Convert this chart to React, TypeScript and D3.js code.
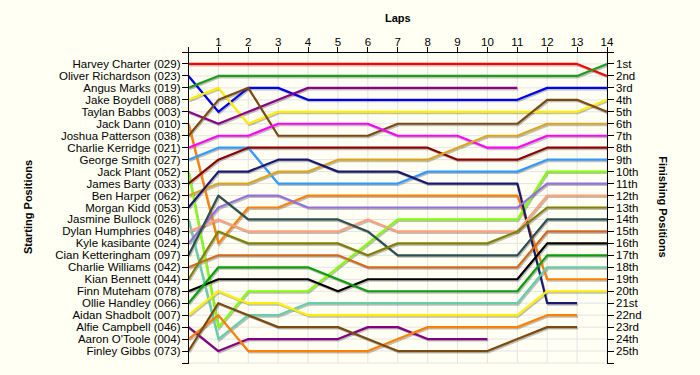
import React from 'react';
import * as d3 from 'd3';

// lap numbers on the top axis
const laps = [1, 2, 3, 4, 5, 6, 7, 8, 9, 10, 11, 12, 13, 14];

// starting grid, in order
const startNames = [
  "Harvey Charter (029)", "Oliver Richardson (023)", "Angus Marks (019)", "Jake Boydell (088)",
  "Taylan Babbs (003)", "Jack Dann (010)", "Joshua Patterson (038)", "Charlie Kerridge (021)",
  "George Smith (027)", "Jack Plant (052)", "James Barty (033)", "Ben Harper (062)",
  "Morgan Kidd (053)", "Jasmine Bullock (026)", "Dylan Humphries (048)", "Kyle kasibante (024)",
  "Cian Ketteringham (097)", "Charlie Williams (042)", "Kian Bennett (044)", "Finn Muteham (078)",
  "Ollie Handley (066)", "Aidan Shadbolt (007)", "Alfie Campbell (046)", "Aaron O'Toole (004)",
  "Finley Gibbs (073)",
];

const finishLabels = [
  "1st", "2nd", "3rd", "4th", "5th", "6th", "7th", "8th", "9th", "10th", "11th", "12th", "13th",
  "14th", "15th", "16th", "17th", "18th", "19th", "20th", "21st", "22nd", "23rd", "24th", "25th",
];

// position at lap 0..n (arrays stop when the driver retired / was lapped)
const harveyCharter = [1, 1, 1, 1, 1, 1, 1, 1, 1, 1, 1, 1, 1, 1, 2];
const oliverRichardson = [2, 5, 3, 3, 4, 4, 4, 4, 4, 4, 4, 4, 3, 3, 3];
const angusMarks = [3, 2, 2, 2, 2, 2, 2, 2, 2, 2, 2, 2, 2, 2, 1];
const jakeBoydell = [4, 3, 6, 5, 5, 5, 5, 5, 5, 5, 5, 5, 5, 5, 4];
const taylanBabbs = [5, 6, 5, 4, 3, 3, 3, 3, 3, 3, 3, 3];
const jackDann = [6, 16, 13, 13, 12, 12, 12, 12, 12, 12, 12, 12, 19, 19, 19];
const joshuaPatterson = [7, 4, 3, 7, 7, 7, 7, 6, 6, 6, 6, 6, 4, 4, 5];
const charlieKerridge = [8, 7, 7, 6, 6, 6, 6, 7, 7, 7, 8, 8, 7, 7, 7];
const georgeSmith = [9, 8, 8, 11, 11, 11, 11, 11, 10, 10, 10, 10, 9, 9, 9];
const jackPlant = [10, 23, 20, 20, 20, 18, 16, 14, 14, 14, 14, 14, 10, 10, 10];
const jamesBarty = [11, 9, 8, 8, 8, 8, 8, 8, 8, 9, 9, 9, 8, 8, 8];
const benHarper = [12, 11, 11, 10, 10, 9, 9, 9, 9, 8, 7, 7, 6, 6, 6];
const morganKidd = [13, 10, 10, 9, 9, 10, 10, 10, 11, 11, 11, 11, 21, 21];
const jasmineBullock = [14, 24, 22, 22, 21, 21, 21, 21, 21, 21, 21, 21, 18, 18, 18];
const dylanHumphries = [15, 14, 15, 15, 15, 15, 14, 15, 15, 15, 15, 15, 12, 12, 12];
const kyleKasibante = [16, 13, 12, 12, 13, 13, 13, 13, 13, 13, 13, 13, 11, 11, 11];
const cianKetteringham = [17, 12, 14, 14, 14, 14, 15, 17, 17, 17, 17, 17, 14, 14, 14];
const charlieWilliams = [18, 17, 17, 17, 17, 17, 18, 18, 18, 18, 18, 18, 15, 15, 15];
const kianBennett = [19, 15, 16, 16, 16, 16, 17, 16, 16, 16, 16, 15, 13, 13, 13];
const finnMuteham = [20, 19, 19, 19, 19, 20, 19, 19, 19, 19, 19, 19, 16, 16, 16];
const ollieHandley = [21, 18, 18, 18, 18, 19, 20, 20, 20, 20, 20, 20, 17, 17, 17];
const aidanShadbolt = [22, 20, 21, 21, 22, 22, 22, 22, 22, 22, 22, 22, 20, 20, 20];
const alfieCampbell = [23, 25, 24, 24, 24, 24, 23, 23, 24, 24, 24];
const aaronOToole = [24, 22, 25, 25, 25, 25, 25, 24, 23, 23, 23, 23, 22, 22];
const finleyGibbs = [25, 21, 22, 23, 23, 23, 24, 25, 25, 25, 25, 24, 23, 23];

const positions = [
  harveyCharter, oliverRichardson, angusMarks, jakeBoydell, taylanBabbs, jackDann,
  joshuaPatterson, charlieKerridge, georgeSmith, jackPlant, jamesBarty, benHarper,
  morganKidd, jasmineBullock, dylanHumphries, kyleKasibante, cianKetteringham,
  charlieWilliams, kianBennett, finnMuteham, ollieHandley, aidanShadbolt,
  alfieCampbell, aaronOToole, finleyGibbs,
];

const colors = [
  "#ff0000", "#0000ee", "#1c9e1c", "#ffee00", "#880088", "#ff7f00", "#7b4a12", "#ff00ff",
  "#3399ff", "#7fff00", "#8b0000", "#daa520", "#191970", "#66cdaa", "#ffa07a", "#9370db",
  "#2f4f4f", "#d2691e", "#808000", "#000000", "#0a9e0a", "#ffee00", "#800080", "#ff8000",
  "#7b4a12",
];

export default function App() {
  const width = 700;
  const height = 375;
  const font = "Arial, 'Liberation Sans', sans-serif";

  const x = d3.scaleLinear().domain([0, 14]).range([188.5, 607]);
  const y = d3.scaleLinear().domain([0, 26]).range([52, 363]);

  const line = d3.line<number>()
    .x((d, i) => x(i))
    .y((d) => y(d));

  const rows = d3.range(1, 27);

  return (
    <svg width={width} height={height} style={{ position: 'absolute', left: 0, top: 0, background: '#fffff4' }}>
      <rect width={width} height={height} fill="#fffff4" />

      {/* grid */}
      <g stroke="#e4e4e4" strokeWidth={1}>
        {laps.map((l) => (
          <line key={"v" + l} x1={x(l)} x2={x(l)} y1={y(0)} y2={y(26)} />
        ))}
        {rows.map((r) => (
          <line key={"h" + r} x1={x(0)} x2={x(14)} y1={y(r)} y2={y(r)} />
        ))}
      </g>

      {/* shadows */}
      <g fill="none" stroke="#000" strokeOpacity={0.25} strokeWidth={2} transform="translate(1,1.5)">
        {positions.map((p, i) => <path key={i} d={line(p) || ""} />)}
      </g>
      {/* lines */}
      <g fill="none" strokeWidth={2.2} strokeLinejoin="round">
        {positions.map((p, i) => <path key={i} d={line(p) || ""} stroke={colors[i]} />)}
      </g>

      {/* axes */}
      <g stroke="#000" strokeWidth={1} shapeRendering="crispEdges">
        <line x1={x(0) - 7} x2={x(14) + 7} y1={y(0)} y2={y(0)} />
        <line x1={x(0)} x2={x(0)} y1={y(0)} y2={y(26)} />
        <line x1={x(14)} x2={x(14)} y1={y(0)} y2={y(26)} />
        {[0].concat(laps).map((l) => (
          <line key={"t" + l} x1={x(l)} x2={x(l)} y1={y(0)} y2={y(0) - 5} />
        ))}
        {rows.map((r) => (
          <g key={"k" + r}>
            <line x1={x(0) - 7} x2={x(0)} y1={y(r)} y2={y(r)} />
            <line x1={x(14)} x2={x(14) + 7} y1={y(r)} y2={y(r)} />
          </g>
        ))}
      </g>

      <g fontFamily={font} fontSize={11.5} fill="#000">
        {laps.map((l) => (
          <text key={l} x={x(l)} y={46} textAnchor="middle">{l}</text>
        ))}
        {startNames.map((n, i) => (
          <text key={n} x={x(0) - 8} y={y(i + 1)} dy="0.35em" textAnchor="end">{n}</text>
        ))}
        {finishLabels.map((n, i) => (
          <text key={n} x={x(14) + 9} y={y(i + 1)} dy="0.35em">{n}</text>
        ))}
      </g>

      <g fontFamily={font} fontSize={11} fontWeight="bold" fill="#000" textAnchor="middle">
        <text x={x(7)} y={22}>Laps</text>
        <text transform={`translate(32,207) rotate(-90)`}>Starting Positions</text>
        <text transform={`translate(659,207) rotate(90)`}>Finishing Positions</text>
      </g>
    </svg>
  );
}
